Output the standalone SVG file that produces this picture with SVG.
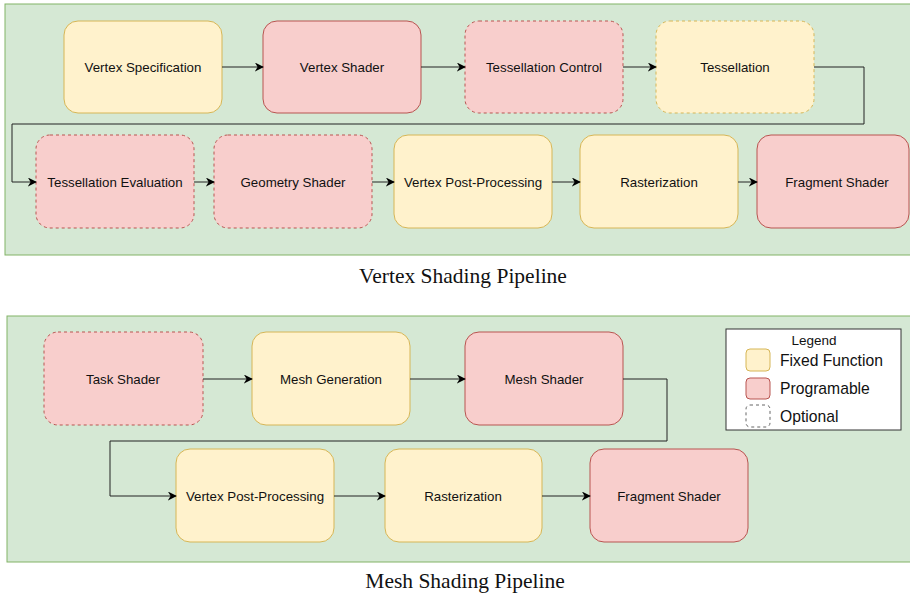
<svg xmlns="http://www.w3.org/2000/svg" width="910" height="596" viewBox="0 0 910 596">
  <style>
    .panel { fill: #d5e8d4; stroke: #82b366; stroke-width: 1; }
    .fixed { fill: #fff2cc; stroke: #d6b656; stroke-width: 1; }
    .prog { fill: #f8cecc; stroke: #b85450; stroke-width: 1; }
    .opt { stroke-dasharray: 3 3; }
    .label { font-family: "Liberation Sans", Arial, sans-serif; font-size: 13.3px; fill: #111; text-anchor: middle; dominant-baseline: central; }
    .caption { font-family: "Liberation Serif", "Times New Roman", serif; font-size: 21.5px; fill: #111; text-anchor: middle; }
    .edge { fill: none; stroke: #222; stroke-width: 1; marker-end: url(#arrow); }
    .legend-text { font-family: "Liberation Sans", Arial, sans-serif; font-size: 15.7px; fill: #111; }
  </style>
  <defs>
    <marker id="arrow" viewBox="0 0 10 10" refX="9" refY="5" markerWidth="9" markerHeight="9" markerUnits="userSpaceOnUse" orient="auto">
      <path d="M0,0 L10,5 L0,10 L3,5 Z" fill="#000"/>
    </marker>
  </defs>
  <rect width="910" height="596" fill="#fff"/>

  <!-- Vertex shading pipeline -->
  <g id="vertex-panel">
    <rect class="panel" x="5" y="4" width="910" height="251"/>
  </g>
  <g id="vertex-specification">
    <rect class="fixed" x="64" y="21" width="158" height="92" rx="14"/>
    <text class="label" x="143" y="67">Vertex Specification</text>
  </g>
  <g id="vertex-shader">
    <rect class="prog" x="263" y="21" width="158" height="92" rx="14"/>
    <text class="label" x="342" y="67">Vertex Shader</text>
  </g>
  <g id="tessellation-control">
    <rect class="prog opt" x="465" y="21" width="158" height="92" rx="14"/>
    <text class="label" x="544" y="67">Tessellation Control</text>
  </g>
  <g id="tessellation">
    <rect class="fixed opt" x="656" y="21" width="158" height="92" rx="14"/>
    <text class="label" x="735" y="67">Tessellation</text>
  </g>
  <g id="tessellation-evaluation">
    <rect class="prog opt" x="36" y="135" width="158" height="93" rx="14"/>
    <text class="label" x="115" y="182">Tessellation Evaluation</text>
  </g>
  <g id="geometry-shader">
    <rect class="prog opt" x="214" y="135" width="158" height="93" rx="14"/>
    <text class="label" x="293" y="182">Geometry Shader</text>
  </g>
  <g id="vertex-post-processing">
    <rect class="fixed" x="394" y="135" width="158" height="93" rx="14"/>
    <text class="label" x="473" y="182">Vertex Post-Processing</text>
  </g>
  <g id="rasterization">
    <rect class="fixed" x="580" y="135" width="158" height="93" rx="14"/>
    <text class="label" x="659" y="182">Rasterization</text>
  </g>
  <g id="fragment-shader">
    <rect class="prog" x="757" y="135" width="152" height="93" rx="14"/>
    <text class="label" x="837" y="182">Fragment Shader</text>
  </g>
  <text class="caption" x="463" y="283">Vertex Shading Pipeline</text>

  <!-- Mesh shading pipeline -->
  <g id="mesh-panel">
    <rect class="panel" x="7" y="316" width="910" height="246"/>
  </g>
  <g id="task-shader">
    <rect class="prog opt" x="44" y="332" width="159" height="93" rx="14"/>
    <text class="label" x="123" y="379">Task Shader</text>
  </g>
  <g id="mesh-generation">
    <rect class="fixed" x="252" y="332" width="158" height="93" rx="14"/>
    <text class="label" x="331" y="379">Mesh Generation</text>
  </g>
  <g id="mesh-shader">
    <rect class="prog" x="465" y="332" width="158" height="93" rx="14"/>
    <text class="label" x="544" y="379">Mesh Shader</text>
  </g>
  <g id="mesh-vertex-post-processing">
    <rect class="fixed" x="176" y="449" width="158" height="93" rx="14"/>
    <text class="label" x="255" y="496">Vertex Post-Processing</text>
  </g>
  <g id="mesh-rasterization">
    <rect class="fixed" x="385" y="449" width="157" height="93" rx="14"/>
    <text class="label" x="463" y="496">Rasterization</text>
  </g>
  <g id="mesh-fragment-shader">
    <rect class="prog" x="590" y="449" width="158" height="93" rx="14"/>
    <text class="label" x="669" y="496">Fragment Shader</text>
  </g>
  <text class="caption" x="465" y="588">Mesh Shading Pipeline</text>

  <g id="legend">
    <rect x="726" y="329" width="175" height="101" fill="#fff" stroke="#333" stroke-width="1"/>
    <text x="814" y="345" font-family="Liberation Sans, Arial, sans-serif" font-size="13.5" fill="#111" text-anchor="middle">Legend</text>
    <rect class="fixed" x="746" y="349" width="24" height="22" rx="4"/>
    <text class="legend-text" x="780" y="366">Fixed Function</text>
    <rect class="prog" x="746" y="378" width="24" height="21" rx="4"/>
    <text class="legend-text" x="780" y="394">Programable</text>
    <rect x="746" y="405" width="24" height="22" rx="4" fill="#fff" stroke="#666" stroke-dasharray="3 3"/>
    <text class="legend-text" x="780" y="422">Optional</text>
  </g>

  <g id="connectors">
    <path class="edge" d="M222,67 H263"/>
    <path class="edge" d="M421,67 H465"/>
    <path class="edge" d="M623,67 H656"/>
    <path class="edge" d="M814,67 H864 V124 H12 V182 H36"/>
    <path class="edge" d="M194,182 H214"/>
    <path class="edge" d="M372,182 H394"/>
    <path class="edge" d="M552,182 H580"/>
    <path class="edge" d="M738,182 H757"/>
    <path class="edge" d="M203,379 H252"/>
    <path class="edge" d="M410,379 H465"/>
    <path class="edge" d="M623,379 H667 V441 H110 V496 H176"/>
    <path class="edge" d="M334,496 H385"/>
    <path class="edge" d="M542,496 H590"/>
  </g>
</svg>
